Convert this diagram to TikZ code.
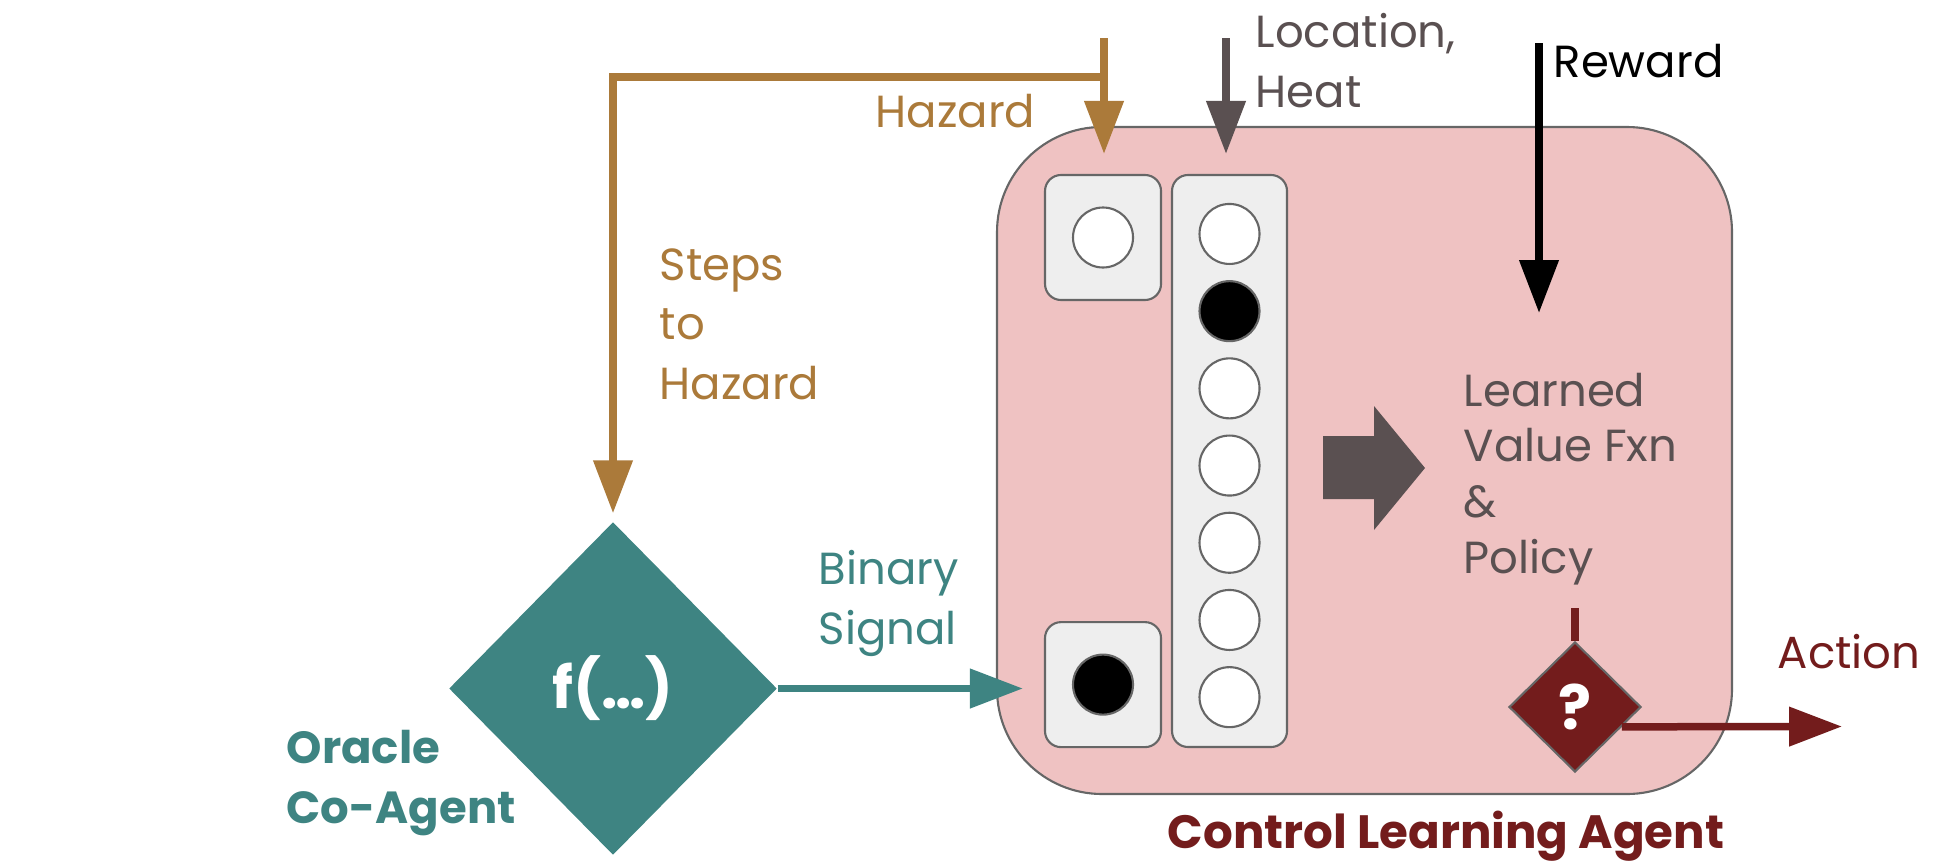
\documentclass[tikz,border=0pt]{standalone}
\usepackage{fontspec}
\setmainfont{Poppins}
\usetikzlibrary{arrows.meta,positioning,calc,shapes.geometric}
\definecolor{hazBrown}{RGB}{171,122,58}
\definecolor{oracleTeal}{RGB}{62,132,130}
\definecolor{agentRed}{RGB}{115,28,28}
\definecolor{agentPink}{RGB}{239,194,194}
\definecolor{inkGray}{RGB}{90,80,81}
\definecolor{cellGray}{RGB}{238,238,238}
\definecolor{edgeGray}{RGB}{102,102,102}

\begin{document}
\begin{tikzpicture}[
        agentbox/.style={draw=edgeGray,line width=0.6pt,fill=agentPink,rounded corners=1.05cm,minimum width=7.35cm,minimum height=6.67cm},
        slot/.style={draw=edgeGray,line width=0.6pt,fill=cellGray,rounded corners=0.16cm,minimum width=1.16cm,minimum height=1.25cm},
        cell/.style={circle,draw=edgeGray,line width=0.6pt,minimum size=0.6cm,inner sep=0pt},
        choice/.style={diamond,aspect=1,inner sep=0pt,text=white},
        lbl/.style={font=\fontsize{12.8}{16.8}\selectfont,inner sep=0pt,align=left,anchor=base west},
        arrow/.style={-{Triangle[length=0.53cm,width=0.38cm]},line width=0.075cm}
      ]
        \useasboundingbox (0,0) rectangle (19.52,8.65);
        % learning agent and its inputs
        \node[agentbox] (agent) at (13.645,4.045) {};
        \node[slot] (hazbox) at (11.03,6.275) {};
        \node[slot,below=3.2cm of hazbox] (sigbox) {};
        \node[slot,minimum width=1.15cm,minimum height=5.72cm] (obsbox) at (12.295,4.04) {};
        \node[cell,fill=white] (hazcell) at (hazbox) {};
        \node[cell,fill=black] (sigcell) at (sigbox) {};
        \foreach \i/\f in {1/white,2/black,3/white,4/white,5/white,6/white,7/white}
          \node[cell,fill=\f] (c\i) at ($(obsbox.north)+(0,{-0.6-0.772*(\i-1)})$) {};
        \fill[inkGray] (13.23,4.29) -- (13.74,4.29) -- (13.74,4.59) -- (14.25,3.97)
          -- (13.74,3.35) -- (13.74,3.66) -- (13.23,3.66) -- cycle;
        \node[choice,draw=edgeGray,line width=0.6pt,fill=agentRed,minimum width=1.32cm,minimum height=1.3cm,
          font=\fontsize{17.5}{20}\selectfont\bfseries] (pick) at (15.75,1.58) {?};
        % oracle
        \node[choice,fill=oracleTeal,minimum width=3.28cm,minimum height=3.33cm,
          font=\fontsize{16.5}{20}\selectfont\bfseries] (oracle) at (6.13,1.765) {f(…)};
        % labels (anchored at the baseline of their last line)
        \node[lbl,text=hazBrown] (hazlbl) at (8.75,7.38) {Hazard};
        \node[lbl,text=hazBrown] (stepslbl) at (6.59,4.66) {Steps\\to\\Hazard};
        \node[lbl,text=inkGray] (loclbl) at (12.55,7.58) {Location,\\Heat};
        \node[lbl] (rewlbl) at (15.53,7.88) {Reward};
        \node[lbl,text=inkGray,font=\fontsize{12.8}{15.8}\selectfont] (valuelbl) at (14.63,2.92) {Learned\\Value Fxn\\\&\\Policy};
        \node[lbl,text=oracleTeal] (siglbl) at (8.18,2.21) {Binary\\Signal};
        \node[lbl,text=oracleTeal,font=\fontsize{12.8}{16.8}\selectfont\bfseries] (oraclelbl) at (2.86,0.42) {Oracle\\Co-Agent};
        \node[lbl,text=agentRed] (actlbl) at (17.77,1.97) {Action};
        \node[lbl,text=agentRed,font=\fontsize{13.3}{16.8}\selectfont\bfseries,anchor=base] (agentlbl) at (14.46,0.17) {Control Learning Agent};
        % connectors
        \coordinate (hazTop) at (11.04,8.27);
        \coordinate (hazSplit) at (11.04,7.88);
        \coordinate (locTop) at (12.26,8.27);
        \coordinate (rewTop) at (15.39,8.22);
        \coordinate (rewEnd) at (15.39,5.52);
        \coordinate (pickIn) at (15.75,2.57);
        \coordinate (actEnd) at (18.42,1.385);
        \draw[arrow,hazBrown,shorten >=0.2cm] (hazTop) -- (hazTop |- hazbox.north);
        \draw[arrow,hazBrown,shorten >=0.08cm] (hazSplit) -| (oracle.north);
        \draw[arrow,inkGray,shorten >=0.2cm] (locTop) -- (locTop |- obsbox.north);
        \draw[arrow,black] (rewTop) -- (rewEnd);
        \draw[agentRed,line width=0.075cm] (pickIn) -- (pick.north);
        \draw[arrow,oracleTeal,shorten >=0.21cm] (oracle) -- (oracle -| sigbox.west);
        \draw[arrow,agentRed] ($(pick.east)!0.3!(pick.south)$) -- (actEnd);
      \end{tikzpicture}
\end{document}
